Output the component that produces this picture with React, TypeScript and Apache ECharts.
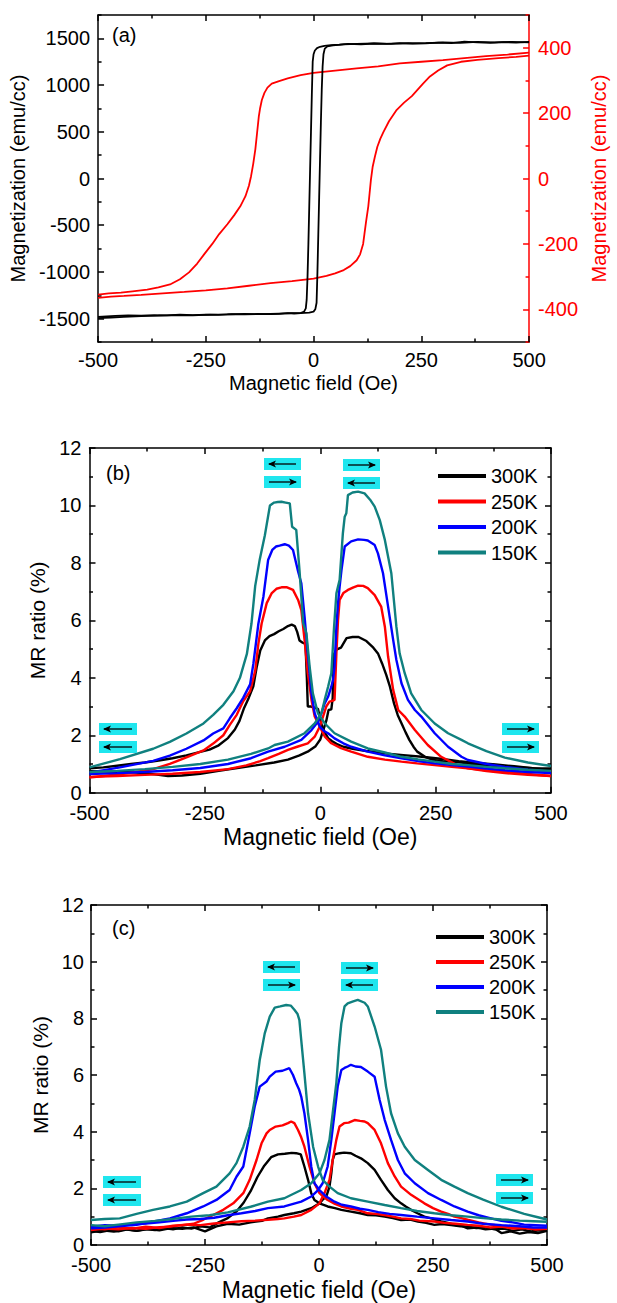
import React, { useEffect, useRef } from "react";
import * as echarts from "echarts";

const FONT = "'Liberation Sans', Arial, Helvetica, sans-serif";

// ---------- Panel (a): hysteresis loops ----------
const aBlackDescH = [500, 470, 440, 410, 380, 350, 320, 290, 260, 230, 200, 170, 140, 110, 80, 60, 40, 25, 15, 8, 3, 0, -2, -4, -6, -8, -10, -12, -14, -16, -18, -22, -30, -45, -60, -80, -100, -130, -160, -190, -220, -250, -280, -310, -340, -370, -400, -430, -460, -480, -500];
const aBlackDescM = [1462, 1455, 1460, 1452, 1458, 1465, 1450, 1455, 1448, 1444, 1450, 1440, 1445, 1436, 1440, 1432, 1428, 1420, 1410, 1395, 1370, 1330, 1250, 900, 500, 100, -300, -700, -1050, -1300, -1390, -1425, -1440, -1445, -1440, -1448, -1452, -1450, -1455, -1452, -1460, -1456, -1462, -1458, -1465, -1462, -1468, -1465, -1470, -1475, -1482];
const aBlackAscH = [-500, -470, -440, -400, -360, -320, -280, -240, -200, -160, -120, -80, -50, -30, -10, 0, 4, 7, 9, 11, 13, 15, 17, 19, 21, 23, 26, 32, 45, 70, 100, 140, 180, 220, 260, 300, 340, 380, 420, 460, 500];
const aBlackAscM = [-1495, -1488, -1480, -1472, -1468, -1462, -1465, -1458, -1455, -1450, -1452, -1446, -1442, -1440, -1435, -1425, -1400, -1330, -1000, -600, -200, 200, 600, 950, 1200, 1330, 1390, 1415, 1425, 1435, 1440, 1446, 1442, 1450, 1447, 1456, 1452, 1462, 1458, 1463, 1458];
const aRedDescH = [500, 450, 400, 350, 300, 250, 200, 150, 100, 50, 0, -30, -60, -80, -97, -107, -114, -120, -124, -127, -131, -135, -140, -145, -150, -158, -170, -184, -200, -219, -235, -254, -270, -289, -310, -333, -360, -386, -420, -447, -475, -500];
const aRedDescM = [385, 379, 374, 368, 362, 357, 352, 343, 337, 330, 323, 316, 306, 298, 290, 278, 262, 240, 215, 190, 140, 90, 45, 7, -22, -54, -85, -112, -140, -170, -200, -232, -260, -287, -308, -324, -333, -340, -345, -349, -351, -355];
const aRedAscH = [-500, -470, -440, -400, -350, -300, -250, -200, -150, -100, -50, 0, 30, 50, 70, 85, 100, 108, 115, 118, 122, 127, 130, 133, 137, 142, 148, 155, 162, 175, 193, 210, 228, 254, 270, 289, 310, 342, 380, 429, 470, 500];
const aRedAscM = [-365, -361, -359, -356, -351, -347, -342, -336, -328, -320, -314, -306, -298, -290, -280, -268, -250, -232, -200, -170, -130, -85, -45, -5, 35, 65, 97, 122, 142, 175, 210, 232, 252, 290, 312, 330, 346, 357, 363, 368, 372, 376];

// ---------- Panel (b): MR ratio ----------
const b300DescH = [-500, -470, -440, -410, -380, -350, -320, -290, -260, -240, -220, -200, -185, -175, -165, -155, -145, -138, -130, -120, -110, -100, -90, -80, -70, -62, -55, -50, -45, -38, -32, -29, -27, -20, -12, -5, 0, 5, 10, 17, 25, 35, 50, 70, 100, 140, 180, 220, 260, 300, 340, 380, 420, 460, 500];
const b300DescMR = [0.85, 0.88, 0.94, 1.0, 1.05, 1.12, 1.2, 1.3, 1.42, 1.5, 1.65, 1.9, 2.2, 2.5, 2.95, 3.3, 3.7, 4.35, 4.95, 5.3, 5.45, 5.52, 5.62, 5.7, 5.8, 5.85, 5.8, 5.6, 5.3, 5.22, 5.18, 4.0, 3.0, 3.0, 2.95, 2.92, 2.55, 2.25, 2.1, 1.9, 1.8, 1.7, 1.6, 1.53, 1.45, 1.37, 1.31, 1.25, 1.18, 1.1, 1.04, 0.98, 0.92, 0.85, 0.78];
const b300AscH = [-500, -460, -420, -380, -350, -330, -300, -260, -220, -180, -140, -100, -70, -45, -25, -10, 0, 6, 13, 18, 24, 27, 29, 35, 45, 57, 70, 83, 100, 115, 125, 134, 143, 151, 160, 168, 176, 185, 193, 202, 210, 227, 244, 265, 287, 310, 329, 350, 372, 400, 430, 460, 500];
const b300AscMR = [0.75, 0.74, 0.72, 0.68, 0.62, 0.58, 0.6, 0.66, 0.76, 0.86, 0.95, 1.05, 1.15, 1.3, 1.45, 1.62, 1.85, 2.15, 2.5, 2.88, 2.9, 3.3, 4.8, 4.98, 5.05, 5.38, 5.42, 5.42, 5.28, 5.05, 4.85, 4.5, 4.1, 3.69, 3.1, 2.7, 2.42, 2.1, 1.84, 1.6, 1.43, 1.25, 1.14, 1.1, 1.08, 1.04, 1.0, 0.97, 0.94, 0.91, 0.88, 0.85, 0.84];
const b250DescH = [-500, -470, -434, -400, -362, -326, -290, -253, -232, -210, -196, -181, -167, -152, -141, -134, -127, -116, -105, -95, -84, -72, -59, -48, -41, -34, -27, -19, -12, -1, 10, 24, 45, 67, 103, 140, 176, 210, 248, 285, 320, 360, 400, 450, 500];
const b250DescMR = [0.53, 0.58, 0.64, 0.72, 0.82, 1.0, 1.23, 1.47, 1.71, 2.0, 2.36, 2.71, 3.18, 3.53, 4.24, 5.19, 5.89, 6.6, 6.95, 7.1, 7.15, 7.15, 7.06, 6.71, 6.36, 5.32, 4.16, 3.23, 2.65, 2.3, 1.95, 1.72, 1.55, 1.43, 1.25, 1.15, 1.08, 1.02, 0.96, 0.9, 0.85, 0.78, 0.72, 0.65, 0.58];
const b250AscH = [-500, -440, -380, -320, -260, -200, -160, -130, -113, -90, -70, -50, -27, -12, -1, 6, 13, 20, 26, 31, 35, 38.5, 42, 50, 60, 72, 82, 93, 103, 118, 132, 140, 147, 158, 169, 183, 205, 233, 262, 298, 320, 360, 400, 450, 500];
const b250AscMR = [0.55, 0.58, 0.62, 0.66, 0.72, 0.82, 0.95, 1.1, 1.2, 1.35, 1.49, 1.6, 1.72, 1.95, 2.3, 2.65, 3.0, 3.17, 3.2, 3.23, 4.85, 6.0, 6.71, 6.95, 7.06, 7.15, 7.21, 7.2, 7.12, 6.88, 6.48, 5.78, 4.74, 3.58, 2.88, 2.65, 2.18, 1.66, 1.25, 0.95, 0.85, 0.75, 0.68, 0.62, 0.58];
const b200DescH = [-500, -434, -362, -326, -290, -253, -232, -210, -196, -181, -167, -152, -145, -134, -123, -113, -104, -96, -88, -77, -68, -59, -48, -41, -34, -27, -19, -12, -1, 8, 17, 31, 50, 67, 103, 140, 176, 212, 248, 285, 320, 360, 400, 450, 500];
const b200DescMR = [0.7, 0.88, 1.11, 1.29, 1.53, 1.82, 2.06, 2.24, 2.59, 2.94, 3.3, 3.77, 4.48, 5.89, 6.84, 8.1, 8.45, 8.57, 8.6, 8.65, 8.6, 8.45, 7.7, 7.29, 6.13, 4.85, 3.46, 2.76, 2.3, 2.15, 2.07, 1.89, 1.72, 1.6, 1.43, 1.3, 1.2, 1.1, 1.02, 0.96, 0.91, 0.84, 0.78, 0.72, 0.68];
const b200AscH = [-500, -440, -380, -320, -260, -200, -150, -113, -77, -41, -19, -5, 2.4, 9.6, 17, 24, 27.6, 31, 35, 38.5, 42, 46, 53, 67, 82, 95, 103, 118, 125, 136, 147, 158, 165, 176, 190, 205, 219, 248, 277, 306, 320, 360, 400, 450, 500];
const b200AscMR = [0.65, 0.68, 0.72, 0.78, 0.86, 1.0, 1.2, 1.43, 1.6, 1.84, 2.18, 2.47, 2.76, 3.11, 3.34, 3.69, 3.92, 4.39, 5.78, 6.59, 7.17, 7.75, 8.57, 8.75, 8.82, 8.8, 8.78, 8.62, 8.33, 7.64, 6.48, 5.32, 4.62, 3.81, 3.23, 2.88, 2.65, 2.07, 1.6, 1.25, 1.14, 1.0, 0.9, 0.8, 0.72];
const b150DescH = [-500, -434, -362, -326, -290, -253, -232, -210, -188, -174, -159, -149, -141, -131, -120, -109, -100, -92, -84, -75, -66, -61, -52, -45, -37, -30, -23, -16, -5, 10, 31, 67, 103, 140, 176, 212, 248, 285, 320, 360, 400, 450, 500];
const b150DescMR = [0.88, 1.17, 1.53, 1.77, 2.06, 2.41, 2.71, 3.06, 3.53, 4.0, 4.83, 5.89, 7.19, 8.13, 8.96, 10.0, 10.1, 10.12, 10.13, 10.1, 10.07, 9.26, 9.15, 7.75, 5.9, 5.55, 4.39, 3.46, 2.76, 2.41, 2.07, 1.78, 1.54, 1.4, 1.25, 1.16, 1.08, 1.0, 0.96, 0.9, 0.85, 0.8, 0.76];
const b150AscH = [-500, -440, -380, -320, -260, -200, -150, -113, -99, -70, -34, -12, 2.4, 9.6, 17, 24, 30, 35, 42, 49, 53, 56.5, 60, 70, 82, 96, 108, 118, 129, 140, 154, 165, 172, 183, 197, 219, 248, 277, 306, 320, 360, 400, 450, 500];
const b150AscMR = [0.72, 0.76, 0.82, 0.9, 1.0, 1.15, 1.35, 1.54, 1.66, 1.78, 2.07, 2.41, 2.76, 3.23, 3.69, 4.16, 5.78, 6.94, 7.41, 9.03, 9.61, 9.73, 10.36, 10.45, 10.48, 10.42, 10.2, 9.96, 9.49, 8.8, 7.64, 5.78, 4.85, 4.16, 3.46, 2.88, 2.41, 2.07, 1.84, 1.72, 1.45, 1.22, 1.05, 0.93];

// ---------- Panel (c): MR ratio ----------
const c300DescH = [-500, -480, -460, -440, -420, -400, -380, -360, -340, -320, -300, -280, -260, -240, -220, -200, -180, -165, -150, -135, -120, -105, -90, -75, -60, -50, -40, -32, -24, -17, -10, 1, 19, 35, 49, 70, 90, 107, 125, 144, 162, 180, 200, 217, 235, 253, 270, 290, 310, 326, 345, 365, 385, 405, 425, 445, 465, 485, 500];
const c300DescMR = [0.5, 0.46, 0.52, 0.48, 0.55, 0.5, 0.56, 0.53, 0.6, 0.55, 0.62, 0.58, 0.66, 0.62, 0.8, 0.95, 1.2, 1.5, 1.9, 2.4, 2.8, 3.1, 3.2, 3.22, 3.25, 3.24, 3.2, 2.77, 2.3, 1.83, 1.59, 1.47, 1.36, 1.3, 1.24, 1.18, 1.12, 1.06, 1.05, 1.0, 0.95, 0.88, 0.9, 0.83, 0.78, 0.71, 0.74, 0.7, 0.66, 0.65, 0.6, 0.62, 0.55, 0.58, 0.5, 0.55, 0.48, 0.52, 0.5];
const c300AscH = [-500, -475, -450, -425, -400, -375, -350, -325, -300, -275, -250, -225, -200, -175, -150, -125, -112, -90, -76, -55, -39, -17, 1, 8, 16, 23, 27, 30, 34, 45, 55, 70, 80, 92, 107, 122, 136, 151, 166, 180, 191, 202, 216, 231, 250, 268, 283, 297, 312, 326, 345, 365, 385, 400, 420, 440, 460, 480, 500];
const c300AscMR = [0.45, 0.52, 0.47, 0.55, 0.5, 0.56, 0.52, 0.6, 0.57, 0.62, 0.48, 0.66, 0.75, 0.72, 0.8, 0.85, 0.94, 1.0, 1.06, 1.12, 1.18, 1.3, 1.47, 1.6, 1.71, 2.06, 2.53, 3.0, 3.2, 3.24, 3.26, 3.24, 3.15, 3.06, 2.89, 2.65, 2.3, 1.94, 1.65, 1.47, 1.35, 1.24, 1.12, 1.0, 0.92, 0.83, 0.78, 0.71, 0.68, 0.59, 0.62, 0.55, 0.58, 0.42, 0.48, 0.4, 0.46, 0.42, 0.5];
const c250DescH = [-500, -470, -440, -410, -380, -350, -327, -300, -275, -254, -232, -210, -188, -166, -152, -137, -126, -115, -108, -95, -80, -68, -61, -54, -46, -39, -32, -21, -10, 1, 10, 19, 35, 49, 70, 85, 107, 125, 144, 162, 180, 200, 220, 253, 275, 300, 326, 350, 375, 400, 425, 450, 475, 500];
const c250DescMR = [0.53, 0.58, 0.55, 0.6, 0.57, 0.63, 0.65, 0.7, 0.75, 0.89, 1.06, 1.24, 1.47, 1.83, 2.3, 3.0, 3.59, 3.94, 4.06, 4.18, 4.22, 4.3, 4.36, 4.3, 4.06, 3.8, 3.47, 2.77, 2.18, 1.83, 1.7, 1.59, 1.45, 1.36, 1.28, 1.24, 1.12, 1.1, 1.06, 1.0, 0.94, 0.92, 0.86, 0.83, 0.78, 0.75, 0.71, 0.68, 0.62, 0.65, 0.58, 0.6, 0.55, 0.57];
const c250AscH = [-500, -470, -440, -410, -380, -350, -320, -290, -260, -230, -200, -170, -140, -112, -90, -76, -55, -39, -17, 1, 12, 23, 30, 38, 45, 55, 65, 78, 90, 100, 107, 122, 136, 151, 166, 180, 202, 231, 250, 268, 283, 297, 312, 326, 350, 375, 400, 425, 450, 475, 500];
const c250AscMR = [0.6, 0.55, 0.62, 0.58, 0.65, 0.6, 0.68, 0.72, 0.7, 0.76, 0.8, 0.84, 0.86, 0.89, 0.92, 0.94, 1.0, 1.06, 1.24, 1.47, 1.83, 2.3, 3.0, 3.71, 4.18, 4.3, 4.32, 4.41, 4.38, 4.36, 4.3, 4.06, 3.59, 2.89, 2.42, 2.06, 1.77, 1.47, 1.3, 1.18, 1.1, 1.0, 0.95, 0.89, 0.8, 0.72, 0.68, 0.6, 0.62, 0.55, 0.58];
const c200DescH = [-500, -470, -440, -400, -364, -327, -290, -254, -225, -196, -181, -166, -152, -141, -130, -115, -108, -95, -80, -65, -57, -50, -44, -39, -32, -24, -17, -10, 1, 16, 34, 50, 70, 90, 107, 130, 155, 180, 215, 253, 290, 326, 360, 400, 440, 470, 500];
const c200DescMR = [0.59, 0.62, 0.66, 0.71, 0.82, 0.94, 1.12, 1.36, 1.59, 1.94, 2.41, 2.77, 3.94, 4.89, 5.59, 5.77, 5.94, 6.12, 6.15, 6.24, 6.0, 5.71, 5.5, 5.24, 4.65, 3.71, 2.77, 2.18, 1.94, 1.71, 1.53, 1.42, 1.36, 1.28, 1.24, 1.16, 1.1, 1.06, 1.0, 0.94, 0.88, 0.83, 0.75, 0.7, 0.66, 0.62, 0.62];
const c200AscH = [-500, -470, -440, -410, -380, -350, -320, -290, -260, -230, -200, -170, -140, -112, -76, -39, -17, -2, 8, 19, 27, 34, 41, 49, 56, 63, 70, 80, 92, 107, 122, 133, 144, 158, 173, 188, 210, 239, 268, 297, 326, 350, 375, 400, 425, 450, 475, 500];
const c200AscMR = [0.65, 0.7, 0.68, 0.74, 0.76, 0.8, 0.85, 0.9, 0.92, 0.96, 1.05, 1.12, 1.2, 1.3, 1.36, 1.53, 1.71, 1.94, 2.18, 2.77, 3.71, 4.65, 5.59, 6.18, 6.25, 6.3, 6.36, 6.3, 6.28, 6.12, 5.94, 5.12, 4.42, 3.71, 3.0, 2.53, 2.18, 1.83, 1.59, 1.36, 1.18, 1.05, 0.95, 0.85, 0.8, 0.72, 0.7, 0.68];
const c150DescH = [-500, -470, -437, -400, -364, -327, -290, -254, -225, -196, -181, -166, -152, -141, -130, -119, -108, -97, -85, -72, -62, -54, -47, -43, -39, -32, -24, -13, -2, 8, 23, 41, 70, 107, 144, 180, 215, 253, 290, 326, 360, 400, 440, 470, 500];
const c150DescMR = [0.88, 0.92, 0.94, 1.1, 1.24, 1.36, 1.53, 1.83, 2.06, 2.53, 2.89, 3.47, 4.18, 5.12, 6.53, 7.47, 8.06, 8.38, 8.42, 8.47, 8.45, 8.3, 8.15, 7.94, 7.24, 6.06, 4.65, 3.47, 2.77, 2.3, 2.06, 1.83, 1.65, 1.53, 1.41, 1.3, 1.2, 1.12, 1.05, 1.0, 0.95, 0.9, 0.86, 0.84, 0.82];
const c150AscH = [-500, -470, -440, -400, -360, -320, -280, -240, -200, -150, -112, -76, -39, -17, 1, 12, 23, 30, 38, 44, 49, 56, 63, 75, 85, 100, 107, 122, 136, 147, 158, 173, 188, 210, 239, 268, 297, 326, 360, 400, 450, 480, 500];
const c150AscMR = [0.7, 0.66, 0.72, 0.8, 0.85, 0.92, 1.0, 1.05, 1.15, 1.35, 1.53, 1.65, 1.94, 2.18, 2.53, 3.0, 3.71, 4.65, 5.71, 7.0, 7.83, 8.42, 8.53, 8.6, 8.65, 8.55, 8.42, 7.71, 6.89, 5.59, 4.65, 3.94, 3.47, 3.0, 2.65, 2.3, 2.06, 1.83, 1.6, 1.35, 1.1, 0.98, 0.9];

// ---------- tick values and labels ----------
const fieldMajors = [-500, -250, 0, 250, 500];
const fieldMinors = [-375, -125, 125, 375];
const magLeftMajors = [-1500, -1000, -500, 0, 500, 1000, 1500];
const magLeftMinors = [-1750, -1250, -750, -250, 250, 750, 1250, 1750];
const magRightMajors = [-400, -200, 0, 200, 400];
const magRightMinors = [-500, -300, -100, 100, 300, 500];
const mrMajors = [0, 2, 4, 6, 8, 10, 12];
const mrMinors = [1, 3, 5, 7, 9, 11];
const tempNames = ["300K", "250K", "200K", "150K"];
const tempColors = ["#000000", "#ff0000", "#0000ff", "#10807f"];

const zip = (xs: number[], ys: number[]) => xs.map((x, i) => [x, ys[i]]);

export default function App() {
  const ref = useRef<HTMLDivElement>(null);

  useEffect(() => {
    if (!ref.current) return;
    const chart = echarts.init(ref.current, null, { renderer: "svg" });

    const xAxes: any[] = [];
    const yAxes: any[] = [];

    function addAxisPair(list: any[], opt: any) {
      const { grid, position, min, max, majors, minors, color, labels, labelSize, margin, name, nameGap, nameSize } = opt;
      const idx = list.length;
      list.push({
        type: "value",
        gridIndex: grid,
        position,
        min,
        max,
        axisLine: { show: true, onZero: false, lineStyle: { color, width: 1.5 } },
        axisTick: { show: true, inside: true, length: 6, customValues: majors, lineStyle: { color, width: 1.5 } },
        axisLabel: labels
          ? { show: true, customValues: majors, fontSize: labelSize, fontFamily: FONT, color, margin, formatter: (v: number) => String(v) }
          : { show: false },
        splitLine: { show: false },
        name: name || "",
        nameLocation: "middle",
        nameGap: nameGap || 0,
        nameTextStyle: { fontSize: nameSize || 20, fontFamily: FONT, color },
      });
      list.push({
        type: "value",
        gridIndex: grid,
        position,
        min,
        max,
        axisLine: { show: false, onZero: false },
        axisTick: { show: true, inside: true, length: 3.5, customValues: minors, lineStyle: { color, width: 1.5 } },
        axisLabel: { show: false },
        splitLine: { show: false },
      });
      return idx;
    }

    // Panel (a)
    const aX = addAxisPair(xAxes, { grid: 0, position: "bottom", min: -500, max: 500, majors: fieldMajors, minors: fieldMinors, color: "#000", labels: true, labelSize: 20, margin: 8, name: "Magnetic field (Oe)", nameGap: 31, nameSize: 20 });
    addAxisPair(xAxes, { grid: 0, position: "top", min: -500, max: 500, majors: fieldMajors, minors: fieldMinors, color: "#000", labels: false });
    const aYL = addAxisPair(yAxes, { grid: 0, position: "left", min: -1750, max: 1750, majors: magLeftMajors, minors: magLeftMinors, color: "#000", labels: true, labelSize: 20, margin: 8, name: "Magnetization (emu/cc)", nameGap: 61, nameSize: 20 });
    const aYR = addAxisPair(yAxes, { grid: 0, position: "right", min: -500, max: 500, majors: magRightMajors, minors: magRightMinors, color: "#ff0000", labels: true, labelSize: 20, margin: 9, name: "Magnetization (emu/cc)", nameGap: 53, nameSize: 20 });

    // Panel (b)
    const bX = addAxisPair(xAxes, { grid: 1, position: "bottom", min: -500, max: 500, majors: fieldMajors, minors: fieldMinors, color: "#000", labels: true, labelSize: 20, margin: 10, name: "Magnetic field (Oe)", nameGap: 33, nameSize: 23 });
    addAxisPair(xAxes, { grid: 1, position: "top", min: -500, max: 500, majors: fieldMajors, minors: fieldMinors, color: "#000", labels: false });
    const bY = addAxisPair(yAxes, { grid: 1, position: "left", min: 0, max: 12, majors: mrMajors, minors: mrMinors, color: "#000", labels: true, labelSize: 20, margin: 8, name: "MR ratio (%)", nameGap: 30, nameSize: 21 });
    addAxisPair(yAxes, { grid: 1, position: "right", min: 0, max: 12, majors: mrMajors, minors: mrMinors, color: "#000", labels: false });

    // Panel (c)
    const cX = addAxisPair(xAxes, { grid: 2, position: "bottom", min: -500, max: 500, majors: fieldMajors, minors: fieldMinors, color: "#000", labels: true, labelSize: 20, margin: 10, name: "Magnetic field (Oe)", nameGap: 33, nameSize: 23 });
    addAxisPair(xAxes, { grid: 2, position: "top", min: -500, max: 500, majors: fieldMajors, minors: fieldMinors, color: "#000", labels: false });
    const cY = addAxisPair(yAxes, { grid: 2, position: "left", min: 0, max: 12, majors: mrMajors, minors: mrMinors, color: "#000", labels: true, labelSize: 20, margin: 7, name: "MR ratio (%)", nameGap: 30, nameSize: 21 });
    addAxisPair(yAxes, { grid: 2, position: "right", min: 0, max: 12, majors: mrMajors, minors: mrMinors, color: "#000", labels: false });

    const line = (name: string, data: number[][], xi: number, yi: number, color: string, width: number, z = 2) => ({
      type: "line",
      name,
      data,
      xAxisIndex: xi,
      yAxisIndex: yi,
      showSymbol: false,
      symbol: "none",
      smooth: false,
      clip: true,
      z,
      lineStyle: { color, width },
      itemStyle: { color },
      emphasis: { disabled: true },
    });

    const series: any[] = [
      line("Ms red desc", zip(aRedDescH, aRedDescM), aX, aYR, "#ff0000", 1.8),
      line("Ms red asc", zip(aRedAscH, aRedAscM), aX, aYR, "#ff0000", 1.8),
      line("Ms black desc", zip(aBlackDescH, aBlackDescM), aX, aYL, "#000000", 1.8, 3),
      line("Ms black asc", zip(aBlackAscH, aBlackAscM), aX, aYL, "#000000", 1.8, 3),
    ];

    const bSets = [
      [b300DescH, b300DescMR, b300AscH, b300AscMR],
      [b250DescH, b250DescMR, b250AscH, b250AscMR],
      [b200DescH, b200DescMR, b200AscH, b200AscMR],
      [b150DescH, b150DescMR, b150AscH, b150AscMR],
    ];
    const cSets = [
      [c300DescH, c300DescMR, c300AscH, c300AscMR],
      [c250DescH, c250DescMR, c250AscH, c250AscMR],
      [c200DescH, c200DescMR, c200AscH, c200AscMR],
      [c150DescH, c150DescMR, c150AscH, c150AscMR],
    ];
    bSets.forEach((s, i) => {
      series.push(line(tempNames[i], zip(s[0], s[1]), bX, bY, tempColors[i], 2.4, 2 + i));
      series.push(line(tempNames[i], zip(s[2], s[3]), bX, bY, tempColors[i], 2.4, 2 + i));
    });
    cSets.forEach((s, i) => {
      series.push(line(tempNames[i], zip(s[0], s[1]), cX, cY, tempColors[i], 2.4, 2 + i));
      series.push(line(tempNames[i], zip(s[2], s[3]), cX, cY, tempColors[i], 2.4, 2 + i));
    });

    const legendBase = {
      data: tempNames,
      orient: "vertical",
      icon: "rect",
      itemWidth: 48,
      itemHeight: 4,
      itemGap: 5.5,
      padding: 0,
      selectedMode: false,
      textStyle: { fontSize: 20, fontFamily: FONT, color: "#000" },
    };

    // annotation boxes: [x, y, w, h, dir]
    const boxes: [number, number, number, number, number][] = [
      [264, 458, 37, 12, -1], [264, 476, 37, 12, 1], [343, 459, 37, 12, 1], [343, 477, 37, 12, -1],
      [99, 723, 38, 12, -1], [99, 741, 38, 12, -1], [502, 723, 37, 12, 1], [502, 741, 37, 12, 1],
      [263, 961, 37, 12, -1], [263, 979, 37, 12, 1], [341, 962, 37, 12, 1], [341, 979, 37, 12, -1],
      [103, 1176, 38, 12, -1], [103, 1194, 38, 12, -1], [496, 1174, 37, 12, 1], [496, 1192, 37, 12, 1],
    ];
    const graphics: any[] = [];
    boxes.forEach(([x, y, w, h, dir]) => {
      const cy = y + h / 2;
      const x0 = x + 5;
      const x1 = x + w - 5;
      graphics.push({ type: "rect", shape: { x, y, width: w, height: h }, style: { fill: "#1fe6ee" }, z: 10 });
      graphics.push({ type: "polyline", shape: { points: [[x0, cy], [x1, cy]] }, style: { stroke: "#000", lineWidth: 1.3, fill: null }, z: 11 });
      const tip = dir > 0 ? x1 + 1 : x0 - 1;
      const base = dir > 0 ? tip - 8 : tip + 8;
      graphics.push({ type: "polygon", shape: { points: [[tip, cy], [base, cy - 3.5], [base + dir * 2, cy], [base, cy + 3.5]] }, style: { fill: "#000" }, z: 11 });
    });
    const labelTexts: [string, number, number][] = [["(a)", 112, 35], ["(b)", 106, 473], ["(c)", 112, 928]];
    labelTexts.forEach(([t, x, y]) => {
      graphics.push({ type: "text", x, y, style: { text: t, fontSize: 20, fontFamily: FONT, fill: "#000", verticalAlign: "middle", align: "left" }, z: 12 });
    });

    chart.setOption({
      animation: false,
      backgroundColor: "#ffffff",
      grid: [
        { left: 94.5, top: 15, width: 446.5, height: 327 },
        { left: 89.5, top: 448, width: 461.5, height: 344.7 },
        { left: 91, top: 905, width: 456, height: 340 },
      ],
      xAxis: xAxes,
      yAxis: yAxes,
      legend: [
        { ...legendBase, left: 438, top: 466 },
        { ...legendBase, left: 436, top: 927, itemGap: 5 },
      ],
      series,
      graphic: graphics,
    });

    return () => chart.dispose();
  }, []);

  return (
    <div
      ref={ref}
      style={{ position: "absolute", left: 0, top: 0, width: 617, height: 1303, background: "#fff" }}
    />
  );
}
